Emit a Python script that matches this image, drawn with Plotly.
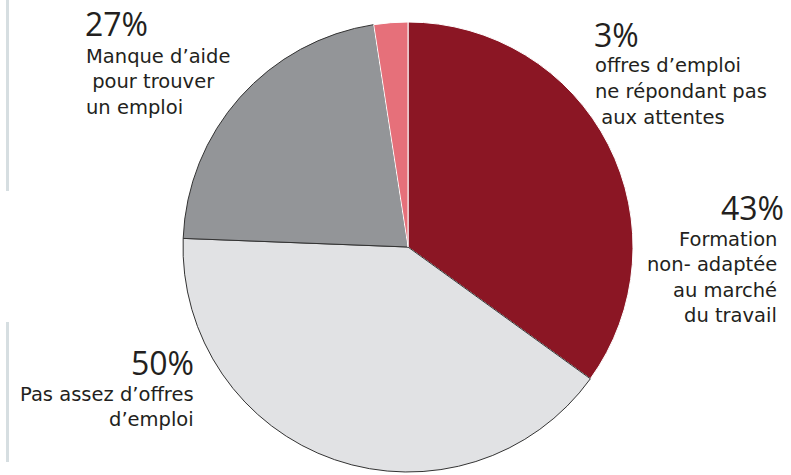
import plotly.graph_objects as go

categories = ["Formation non- adaptée au marché du travail",
              "Pas assez d’offres d’emploi",
              "Manque d’aide pour trouver un emploi",
              "offres d’emploi ne répondant pas aux attentes"]
values = [43, 50, 27, 3]
pct_labels = ["43%", "50%", "27%", "3%"]
desc_lines = [["Formation", "non- adaptée", "au marché", "du travail"],
              ["Pas assez d’offres", "d’emploi"],
              ["Manque d’aide", "\u00a0pour trouver", "un emploi"],
              ["offres d’emploi", "ne répondant pas", "\u00a0aux attentes"]]
colors = ["#8B1624", "#E1E2E4", "#939598", "#E6707A"]
line_colors = ["#FFFFFF", "#333333", "#333333", "#FFFFFF"]

W, H = 791, 475
PCT_FONT = "Open Sans"
DESC_FONT = "DejaVu Sans"
TXT = "#231F20"


def px(sx):
    return sx / W


def py(sy):
    return 1 - sy / H


cx, cy, r = 408, 247, 225
fig = go.Figure(go.Pie(
    labels=categories, values=values, sort=False, direction="clockwise",
    rotation=0, textinfo="none", hoverinfo="label+percent",
    marker=dict(colors=colors, line=dict(color=line_colors, width=1)),
    domain=dict(x=[px(cx - r), px(cx + r)], y=[py(cy + r), py(cy - r)]),
    showlegend=False,
))

# (anchor, x of pct, baseline of pct, x of desc, baseline of first desc line)
pos = [
    ("right", 785, 218, 778, 245),
    ("right", 195, 373, 195, 400),
    ("left", 84, 35, 85, 62),
    ("left", 593, 45, 594, 72),
]
SP = 25.5
for i in range(4):
    anc, pxx, pby, dx, dby = pos[i]
    fig.add_annotation(x=px(pxx), y=py(pby - 11), xref="paper", yref="paper",
                       xanchor=anc, yanchor="middle", showarrow=False,
                       text=pct_labels[i], borderpad=0,
                       font=dict(family=PCT_FONT, size=32, color=TXT))
    for j, line in enumerate(desc_lines[i]):
        fig.add_annotation(x=px(dx), y=py(dby + j * SP - 6), xref="paper", yref="paper",
                           xanchor=anc, yanchor="middle", showarrow=False,
                           text=line, borderpad=0,
                           font=dict(family=DESC_FONT, size=19.5, color=TXT))

for y0, y1 in [(0, 191), (322, 462)]:
    fig.add_shape(type="line", xref="paper", yref="paper",
                  x0=px(7.5), x1=px(7.5), y0=py(y0), y1=py(y1),
                  line=dict(color="#D6DEE1", width=3))

fig.update_layout(width=W, height=H, margin=dict(l=0, r=0, t=0, b=0),
                  paper_bgcolor="white", plot_bgcolor="white")
fig.write_html("out.html", config={"displayModeBar": False},
               post_script="document.body.style.margin='0';")
